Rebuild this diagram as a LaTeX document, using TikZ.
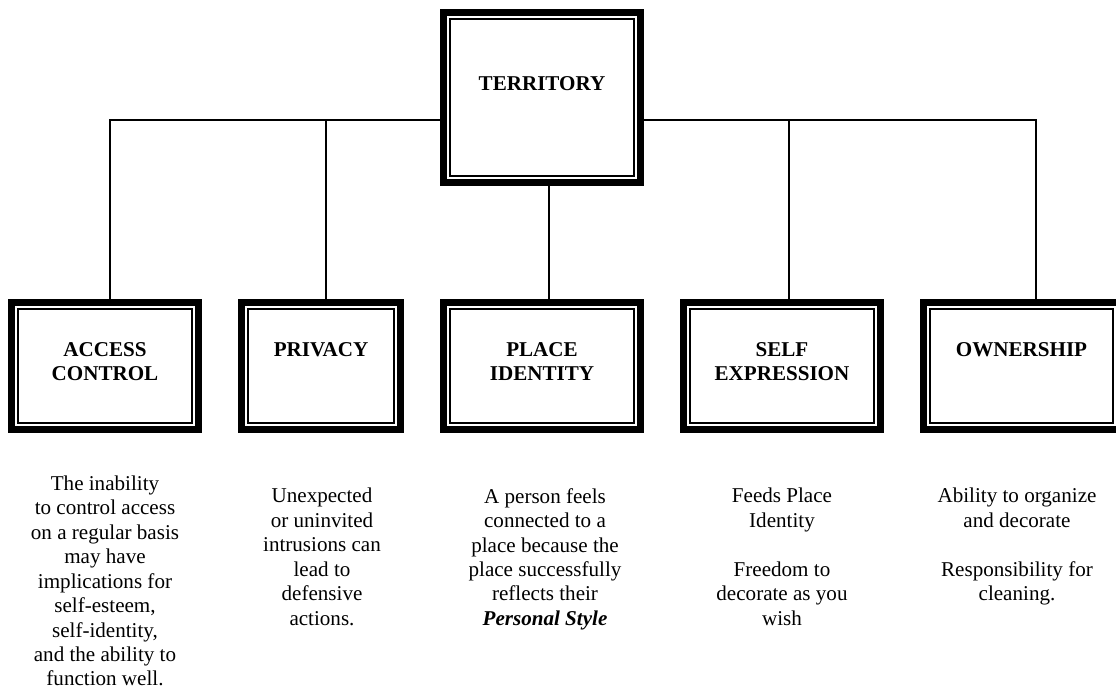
\documentclass[tikz,border=0pt]{standalone}
\usepackage{fontspec}
\setmainfont{Liberation Serif}
\usepackage{tikz}

\tikzset{
  frame/.style={draw,rectangle,line width=0.14cm,fill=white,minimum height=2.54cm},
  innerframe/.style={line width=0.04cm},
  head/.style={anchor=north,inner sep=0pt,align=center,font=\fontsize{12}{13.9}\selectfont\bfseries},
  desc/.style={anchor=north,inner sep=0pt,align=center,font=\fontsize{12}{13.9}\selectfont},
  link/.style={line width=0.04cm}
}

\begin{document}
\begin{tikzpicture}[x=0.02cm,y=-0.02cm]
\useasboundingbox (0,0) rectangle (1116,690);

\node [frame,minimum width=3.94cm,minimum height=3.4cm] (terr) at(542,97.5){};
\node [frame,minimum width=3.74cm] (acc) at(105,366){};
\node [frame,minimum width=3.18cm] (prv) at(321,366){};
\node [frame,minimum width=3.94cm] (plc) at(542,366){};
\node [frame,minimum width=3.94cm] (slf) at(782,366){};
\node [frame,minimum width=3.92cm] (own) at(1021.5,366){};

\foreach \n in {terr,acc,prv,plc,slf,own}
  \draw[innerframe] ([shift={(0.2cm,-0.2cm)}]\n.north west) rectangle ([shift={(-0.2cm,0.2cm)}]\n.south east);

\node [head] (terrh) at(542,76){TERRITORY};
\node [head] (acch) at(105,342){ACCESS\\CONTROL};
\node [head] (prvh) at(321,342){PRIVACY};
\node [head] (plch) at(542,342){PLACE\\IDENTITY};
\node [head] (slfh) at(782,342){SELF\\EXPRESSION};
\node [head] (ownh) at(1021.5,342){OWNERSHIP};

\node [desc] (accd) at(105,475.5){The inability\\to control access\\on a regular basis\\may have\\implications for\\self-esteem,\\self-identity,\\and the ability to\\function well.};
\node [desc] (prvd) at(322,488){Unexpected\\or uninvited\\intrusions can\\lead to\\defensive\\actions.};
\node [desc] (plcd) at(545,488){A person feels\\connected to a\\place because the\\place successfully\\reflects their\\\textbf{\textit{Personal Style}}};
\node [desc] (slfd) at(782,488){Feeds Place\\Identity\\\mbox{}\\Freedom to\\decorate as you\\wish};
\node [desc] (ownd) at(1017,488){Ability to organize\\and decorate\\\mbox{}\\Responsibility for\\cleaning.};

\coordinate (b1) at(110,120);
\coordinate (b2) at(326,120);
\coordinate (b3) at(549,120);
\coordinate (b4) at(789,120);
\coordinate (b5) at(1036,120);

\draw[link] (b1 |- acc.north) -- (b1) -- (b2) -- (terr.west |- b1);
\draw[link] (terr.east |- b5) -- (b4) -- (b5) -- (b5 |- own.north);
\draw[link] (b2) -- (b2 |- prv.north);
\draw[link] (b4) -- (b4 |- slf.north);
\draw[link] (b3 |- terr.south) -- (b3 |- plc.north);
\end{tikzpicture}
\end{document}
